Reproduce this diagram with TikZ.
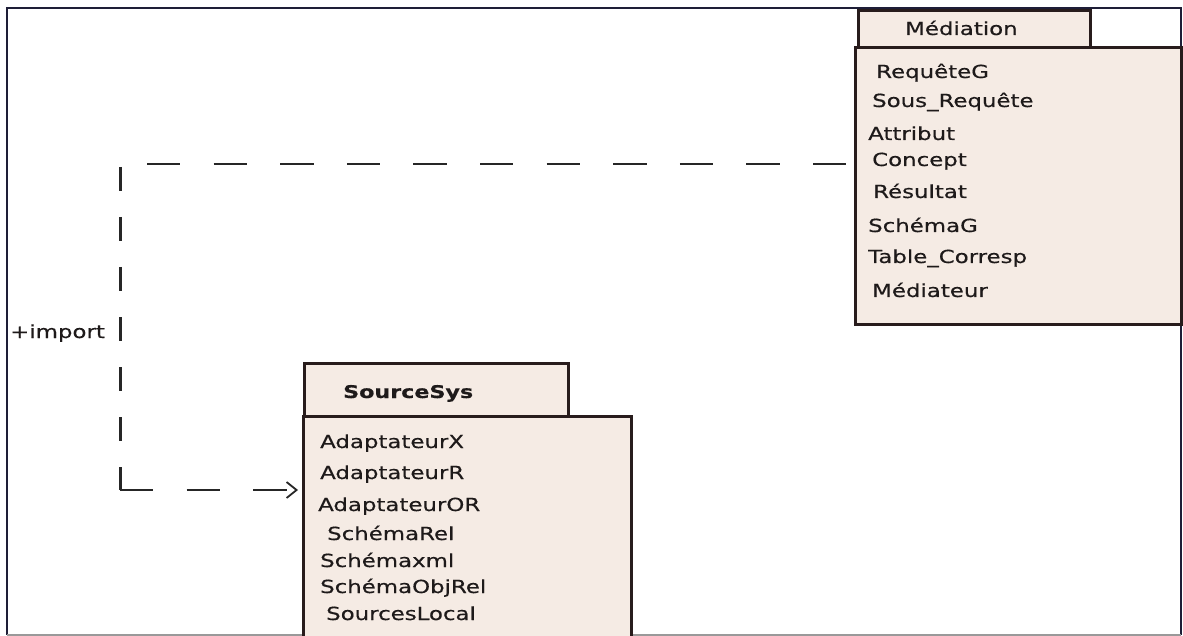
\documentclass[tikz,border=0pt]{standalone}
\usepackage{fontspec}
\newfontfamily\umlfont[FakeStretch=1.27,FakeBold=0.5]{DejaVu Sans}
\usetikzlibrary{arrows.meta}
\definecolor{pkgfill}{RGB}{245,235,228}
\definecolor{pkgline}{RGB}{40,28,28}
\definecolor{txt}{RGB}{30,26,26}
\definecolor{frameline}{RGB}{30,30,55}
\tikzset{
  pkgbox/.style={draw=pkgline, fill=pkgfill, line width=3pt, inner sep=0pt, anchor=north west},
  item/.style={anchor=base west, inner sep=0pt, text=txt, font=\umlfont\fontsize{18}{20}\selectfont},
  title/.style={item},
  deph/.style={draw=black!85, line width=2.2pt, dash pattern=on 33.3pt off 33.3pt},
  depv/.style={draw=black!85, line width=3pt, dash pattern=on 24pt off 26pt},
}
\begin{document}
\begin{tikzpicture}[x=1pt,y=-1pt]
\useasboundingbox (0,0) rectangle (1183,636);
% outer frame
\draw[frameline, line width=1.4pt] (7,635) -- (7,8) -- (1181,8) -- (1181,635);
\draw[black!40, line width=1.2pt] (7,635) -- (1181,635);

% package Médiation
\node[pkgbox, minimum width=232pt, minimum height=37pt] (medtab) at (857,9) {};
\node[pkgbox, minimum width=326pt, minimum height=277pt] (med) at (854,46) {};
\node[title] (medname) at (905,35) {Médiation};
\node[item] (m1) at (876,78) {RequêteG};
\node[item] (m2) at (872,107) {Sous\_Requête};
\node[item] (m3) at (868,140) {Attribut};
\node[item] (m4) at (872,166) {Concept};
\node[item] (m5) at (873,198) {Résultat};
\node[item] (m6) at (868,232) {SchémaG};
\node[item] (m7) at (868,263) {Table\_Corresp};
\node[item] (m8) at (872,297) {Médiateur};

% package SourceSys
\node[pkgbox, minimum width=264pt, minimum height=53pt] (srctab) at (303,362) {};
\node[pkgbox, minimum width=328pt, minimum height=230pt] (src) at (302,415) {};
\node[title, font=\umlfont\bfseries\fontsize{17.5}{20}\selectfont] (srcname) at (343,398) {SourceSys};
\node[item] (s1) at (320,448) {AdaptateurX};
\node[item] (s2) at (320,479) {AdaptateurR};
\node[item] (s3) at (318,511) {AdaptateurOR};
\node[item] (s4) at (327,540) {SchémaRel};
\node[item] (s5) at (320,567) {Schémaxml};
\node[item] (s6) at (320,593) {SchémaObjRel};
\node[item] (s7) at (326,620) {SourcesLocal};

% import dependency
\coordinate (htop) at (147,164);
\coordinate (vtop) at (120,167);
\coordinate (bend) at (120,490);
\draw[deph] (htop) -- (med.west |- htop);
\draw[depv] (vtop) -- (bend);
\draw[deph, shorten >=4pt, -{Straight Barb[length=10pt,width=16pt,line width=1.8pt]}] (bend) -- (src.west |- bend);
\node[item] (imp) at (10,338) {+import};
\end{tikzpicture}
\end{document}
